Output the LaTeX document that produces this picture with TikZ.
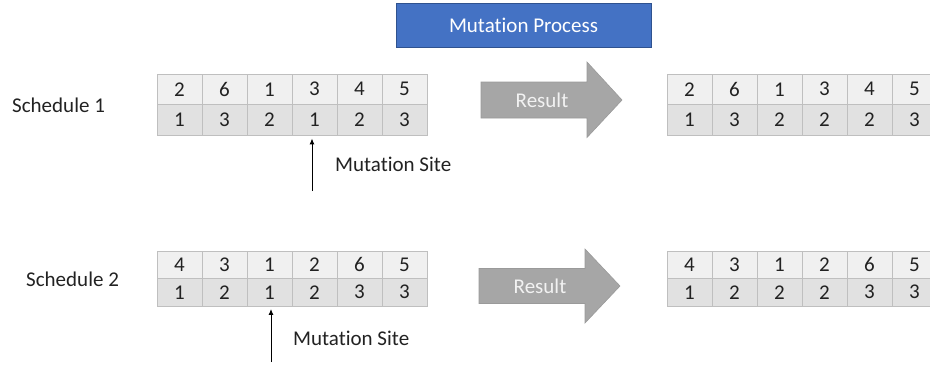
\documentclass[tikz,border=0pt]{standalone}
\usepackage{fontspec}
\setmainfont{Carlito}[RawFeature=-liga]
\usetikzlibrary{arrows.meta}
\definecolor{cellline}{HTML}{BFBFBF}
\definecolor{topfill}{HTML}{F0F0F0}
\definecolor{botfill}{HTML}{E1E1E1}
\definecolor{celltext}{HTML}{222222}
\definecolor{resfill}{HTML}{A6A6A6}
\definecolor{resline}{HTML}{9A9A9A}
\definecolor{restext}{HTML}{F2F2F2}
\definecolor{mpfill}{HTML}{4472C4}
\definecolor{mpline}{HTML}{2F528F}
\begin{document}
\begin{tikzpicture}[x=1pt,y=-1pt,
  every node/.style={font=\fontsize{21}{25}\selectfont, text=celltext},
  cellbox/.style={draw=cellline, line width=0.9pt, minimum width=45pt, inner sep=0pt, anchor=center},
  toprowA/.style={cellbox, fill=topfill, minimum height=30.5pt},
  botrowA/.style={cellbox, fill=botfill, minimum height=30.5pt},
  toprowB/.style={cellbox, fill=topfill, minimum height=27.5pt},
  botrowB/.style={cellbox, fill=botfill, minimum height=27.5pt},
  resultarrow/.style={fill=resfill, draw=resline, line width=0.6pt},
  restxt/.style={text=restext, inner sep=0pt},
  sitearrow/.style={draw=black, line width=1pt, -{Latex[length=6pt,width=5pt]}},
  plain/.style={inner sep=0pt, anchor=west}]
\useasboundingbox (0,0) rectangle (930,365);
\clip (0,0) rectangle (930,365);

% title
\node[fill=mpfill, draw=mpline, line width=0.8pt, minimum width=255pt, minimum height=44pt, inner sep=0pt, text=white] (title) at (523.5,25) {Mutation Process};

% labels
\node[plain] (s1) at (12,105) {Schedule 1};
\node[plain] (s2) at (26,279) {Schedule 2};

% schedule 1 tables
\foreach \v [count=\i] in {2,6,1,3,4,5}
  \node[toprowA] (a\i) at (157+45*\i-22.5, 89.25) {\v};
\foreach \v [count=\i] in {1,3,2,1,2,3}
  \node[botrowA] (b\i) at (157+45*\i-22.5, 119.75) {\v};
\foreach \v [count=\i] in {2,6,1,3,4,5}
  \node[toprowA] (c\i) at (667+45*\i-22.5, 89.25) {\v};
\foreach \v [count=\i] in {1,3,2,2,2,3}
  \node[botrowA] (d\i) at (667+45*\i-22.5, 119.75) {\v};

% schedule 2 tables
\foreach \v [count=\i] in {4,3,1,2,6,5}
  \node[toprowB] (e\i) at (157+45*\i-22.5, 264.75) {\v};
\foreach \v [count=\i] in {1,2,1,2,3,3}
  \node[botrowB] (f\i) at (157+45*\i-22.5, 292.25) {\v};
\foreach \v [count=\i] in {4,3,1,2,6,5}
  \node[toprowB] (g\i) at (667+45*\i-22.5, 264.75) {\v};
\foreach \v [count=\i] in {1,2,2,2,3,3}
  \node[botrowB] (h\i) at (667+45*\i-22.5, 292.25) {\v};

% result arrows
\draw[resultarrow] (481,82) -- (587,82) -- (587,62) -- (622,100) -- (587,137.5) -- (587,118) -- (481,118) -- cycle;
\node[restxt] (r1) at (542,100) {Result};
\draw[resultarrow] (479,268.5) -- (585,268.5) -- (585,249) -- (620,286) -- (585,323) -- (585,303.5) -- (479,303.5) -- cycle;
\node[restxt] (r2) at (540,286) {Result};

% mutation sites
\coordinate (m1) at (312,191);
\draw[sitearrow, shorten >=3pt] (m1) -- (m1 |- b4.south);
\node[plain] (t1) at (335,164) {Mutation Site};
\coordinate (m2) at (271,362);
\draw[sitearrow, shorten >=2.5pt] (m2) -- (m2 |- f3.south);
\node[plain] (t2) at (293,338) {Mutation Site};
\end{tikzpicture}
\end{document}
